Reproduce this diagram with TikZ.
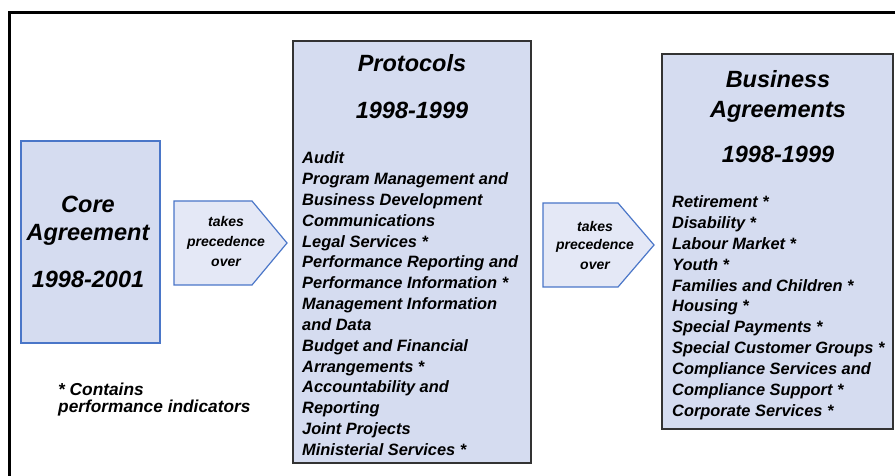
\documentclass[tikz,border=0pt]{standalone}
\usepackage{fontspec}
\setmainfont{Liberation Sans}
\definecolor{boxfill}{HTML}{D5DCF0}
\definecolor{arrfill}{HTML}{E4E8F6}
\definecolor{blueline}{HTML}{4A76C8}
\definecolor{darkline}{HTML}{333333}
\tikzset{
  titletxt/.style={inner sep=0pt, anchor=base, font=\fontsize{23.5bp}{27bp}\selectfont\bfseries\itshape},
  itemtxt/.style={inner sep=0pt, anchor=base west, font=\fontsize{16.4bp}{19bp}\selectfont\bfseries\itshape},
  foottxt/.style={inner sep=0pt, anchor=base west, font=\fontsize{17.3bp}{19bp}\selectfont\bfseries\itshape},
  arrtxt/.style={inner sep=0pt, anchor=base, font=\fontsize{14bp}{16bp}\selectfont\bfseries\itshape},
  bluebox/.style={draw=blueline, fill=boxfill, line width=1.5bp},
  darkbox/.style={draw=darkline, fill=boxfill, line width=1.5bp},
  arrshape/.style={draw=blueline, fill=arrfill, line width=1.2bp, line join=miter},
}
\begin{document}
\begin{tikzpicture}[x=1bp,y=-1bp]
\useasboundingbox (0,0) rectangle (895,476);
\fill[white] (0,0) rectangle (895,476);
% frame
\draw[line width=3bp] (895,12.5) -- (9.5,12.5) -- (9.5,476);
% core box
\draw[bluebox] (21,141) rectangle (160,343);
\node[titletxt] (c1) at (88,213) {Core};
\node[titletxt] (c2) at (88,241) {Agreement};
\node[titletxt] (c3) at (88,288) {1998-2001};
% arrow 1
\draw[arrshape] (174,201) -- (252,201) -- (287,243) -- (252,285) -- (174,285) -- cycle;
\node[arrtxt] (a1) at (226,227) {takes};
\node[arrtxt] (a2) at (226,246.5) {precedence};
\node[arrtxt] (a3) at (226,267) {over};
% protocols box
\draw[darkbox] (293,41) rectangle (531,463);
\node[titletxt] (p0) at (412,72) {Protocols};
\node[titletxt] (py) at (412,119) {1998-1999};
\foreach \t [count=\i from 0] in {Audit,Program Management and,Business Development,Communications,Legal Services *,Performance Reporting and,Performance Information *,Management Information,and Data,Budget and Financial,Arrangements *,Accountability and,Reporting,Joint Projects,Ministerial Services *}
  \node[itemtxt] (pi\i) at (302,164+20.8*\i) {\t};
% arrow 2
\draw[arrshape] (543,203) -- (618,203) -- (654,245) -- (618,287) -- (543,287) -- cycle;
\node[arrtxt] (b1) at (595,232) {takes};
\node[arrtxt] (b2) at (595,250) {precedence};
\node[arrtxt] (b3) at (595,270) {over};
% business box
\draw[darkbox] (662,54) rectangle (893,429);
\node[titletxt] (q0) at (778,88) {Business};
\node[titletxt] (q1) at (778,118) {Agreements};
\node[titletxt] (qy) at (778,163) {1998-1999};
\foreach \t [count=\i from 0] in {Retirement *,Disability *,Labour Market *,Youth *,Families and Children *,Housing *,Special Payments *,Special Customer Groups *,Compliance Services and,Compliance Support *,Corporate Services *}
  \node[itemtxt] (qi\i) at (672,208+20.8*\i) {\t};
% footnote
\node[foottxt] (f1) at (58,395) {* Contains};
\node[foottxt] (f2) at (58,412) {performance indicators};
\end{tikzpicture}
\end{document}
